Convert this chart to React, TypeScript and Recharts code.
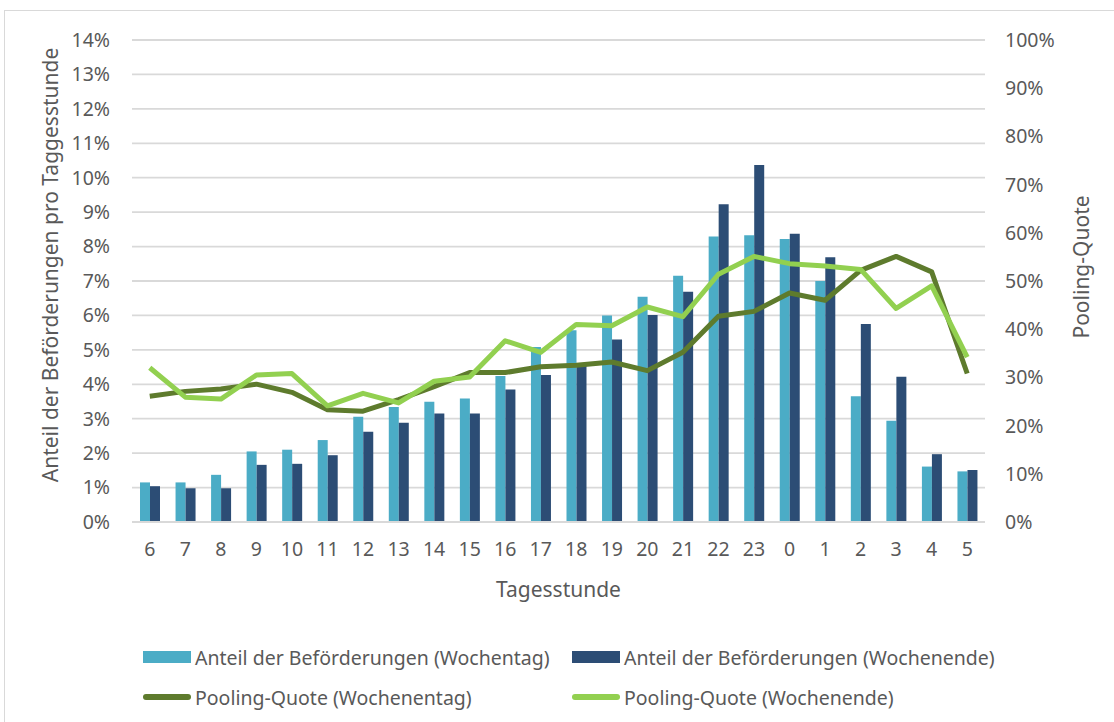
import { ComposedChart, Bar, Line, XAxis, YAxis, CartesianGrid, Legend } from 'recharts';

const hours = ['6', '7', '8', '9', '10', '11', '12', '13', '14', '15', '16', '17', '18', '19', '20', '21', '22', '23', '0', '1', '2', '3', '4', '5'];
// Anteil der Beförderungen in %
const shareWeekday = [1.15, 1.15, 1.37, 2.05, 2.1, 2.38, 3.06, 3.34, 3.49, 3.59, 4.24, 5.08, 5.57, 6.0, 6.54, 7.15, 8.29, 8.33, 8.22, 7.0, 3.65, 2.94, 1.61, 1.47];
const shareWeekend = [1.04, 0.98, 0.98, 1.66, 1.69, 1.94, 2.62, 2.88, 3.15, 3.15, 3.85, 4.27, 4.6, 5.3, 6.01, 6.69, 9.23, 10.37, 8.37, 7.69, 5.75, 4.22, 1.97, 1.51];
// Pooling-Quote in %
const poolWeekday = [26.1, 27.1, 27.6, 28.6, 26.9, 23.3, 23.0, 25.4, 28.1, 31.0, 31.0, 32.2, 32.5, 33.2, 31.4, 35.2, 42.7, 43.7, 47.5, 46.0, 52.2, 55.1, 51.9, 30.8];
const poolWeekend = [32.0, 25.9, 25.5, 30.5, 30.8, 24.1, 26.7, 24.7, 29.2, 30.1, 37.6, 35.2, 41.0, 40.7, 44.6, 42.6, 51.4, 55.1, 53.6, 53.1, 52.4, 44.3, 49.0, 34.2];

const leftTicks = [0, 1, 2, 3, 4, 5, 6, 7, 8, 9, 10, 11, 12, 13, 14];
const rightTicks = [0, 10, 20, 30, 40, 50, 60, 70, 80, 90, 100];

const data = hours.map((h, i) => ({
  hour: h,
  wt: shareWeekday[i],
  we: shareWeekend[i],
  pwt: poolWeekday[i],
  pwe: poolWeekend[i],
}));

const FONT = '"Noto Sans", sans-serif';
const TEXT = '#595959';
const C_WT = '#4BACC6';
const C_WE = '#2C4D75';
const C_PWT = '#5E7B2D';
const C_PWE = '#92D050';

const legendItems = [
  { label: 'Anteil der Beförderungen (Wochentag)', color: C_WT, kind: 'bar', col: 0, row: 0 },
  { label: 'Anteil der Beförderungen (Wochenende)', color: C_WE, kind: 'bar', col: 1, row: 0 },
  { label: 'Pooling-Quote (Wochenentag)', color: C_PWT, kind: 'line', col: 0, row: 1 },
  { label: 'Pooling-Quote (Wochenende)', color: C_PWE, kind: 'line', col: 1, row: 1 },
];

function ChartLegend() {
  return (
    <div style={{ position: 'relative', width: 1114, height: 80, fontFamily: FONT, fontSize: 19.5, color: TEXT }}>
      {legendItems.map((it) => (
        <div
          key={it.label}
          style={{
            position: 'absolute',
            left: it.col === 0 ? 143 : 572,
            top: it.row === 0 ? 8 : 48,
            display: 'flex',
            alignItems: 'center',
            height: 26,
            whiteSpace: 'nowrap',
          }}
        >
          <span
            style={{
              display: 'inline-block',
              width: 48,
              height: it.kind === 'bar' ? 12 : 6,
              borderRadius: it.kind === 'bar' ? 0 : 3,
              background: it.color,
              marginRight: 4,
            }}
          />
          <span>{it.label}</span>
        </div>
      ))}
    </div>
  );
}

const leftTitle = (props: any) => {
  const vb = props.viewBox;
  const x = vb.x + 50;
  const y = vb.y + vb.height / 2 - 16;
  return (
    <text x={x} y={y} transform={`rotate(-90 ${x} ${y})`} textAnchor="middle" dominantBaseline="central" fill={TEXT} fontSize={21} fontFamily={FONT}>
      Anteil der Beförderungen pro Taggesstunde
    </text>
  );
};

const rightTitle = (props: any) => {
  const vb = props.viewBox;
  const x = vb.x + 96;
  const y = vb.y + vb.height / 2 - 14;
  return (
    <text x={x} y={y} transform={`rotate(-90 ${x} ${y})`} textAnchor="middle" dominantBaseline="central" fill={TEXT} fontSize={21} fontFamily={FONT}>
      Pooling-Quote
    </text>
  );
};

const bottomTitle = (props: any) => {
  const vb = props.viewBox;
  return (
    <text x={vb.x + vb.width / 2} y={vb.y + 67} textAnchor="middle" dominantBaseline="central" fill={TEXT} fontSize={21} fontFamily={FONT}>
      Tagesstunde
    </text>
  );
};

export default function App() {
  const tick = { fontSize: 19.5, fill: TEXT, fontFamily: FONT };
  return (
    <div style={{ position: 'absolute', left: 0, top: 0, width: 1114, height: 722, overflow: 'hidden', background: '#fff' }}>
      <div style={{ position: 'absolute', left: 4, top: 10, width: 1130, height: 740, border: '1.5px solid #d9d9d9' }} />
      <ComposedChart
        width={1114}
        height={722}
        data={data}
        margin={{ top: 40, right: 0, bottom: 40, left: 0 }}
        barGap={0}
        style={{ position: 'absolute', left: 0, top: 0 }}
      >
        <CartesianGrid yAxisId="left" vertical={false} stroke="#d9d9d9" strokeWidth={1.8} />
        <XAxis
          dataKey="hour"
          height={80}
          tick={tick}
          tickLine={false}
          axisLine={{ stroke: '#d9d9d9', strokeWidth: 1.8 }}
          tickMargin={14}
          interval={0}
          label={bottomTitle}
        />
        <YAxis
          yAxisId="left"
          width={132}
          domain={[0, 14]}
          ticks={leftTicks}
          tickFormatter={(v: number) => `${v}%`}
          tick={tick}
          tickLine={false}
          axisLine={false}
          tickMargin={16}
          label={leftTitle}
        />
        <YAxis
          yAxisId="right"
          orientation="right"
          width={129}
          domain={[0, 100]}
          ticks={rightTicks}
          tickFormatter={(v: number) => `${v}%`}
          tick={{ ...tick, textAnchor: 'start' }}
          tickLine={false}
          axisLine={false}
          tickMargin={14}
          label={rightTitle}
        />
        <Legend
          verticalAlign="bottom"
          content={() => <ChartLegend />}
          wrapperStyle={{ top: 636, left: 0, bottom: 'auto', width: 1114, height: 80 }}
        />
        <Bar yAxisId="left" dataKey="wt" name="Anteil der Beförderungen (Wochentag)" fill={C_WT} barSize={10} isAnimationActive={false} />
        <Bar yAxisId="left" dataKey="we" name="Anteil der Beförderungen (Wochenende)" fill={C_WE} barSize={10} isAnimationActive={false} />
        <Line yAxisId="right" type="linear" dataKey="pwt" name="Pooling-Quote (Wochenentag)" stroke={C_PWT} strokeWidth={5} dot={false} strokeLinejoin="round" isAnimationActive={false} />
        <Line yAxisId="right" type="linear" dataKey="pwe" name="Pooling-Quote (Wochenende)" stroke={C_PWE} strokeWidth={5} dot={false} strokeLinejoin="round" isAnimationActive={false} />
      </ComposedChart>
    </div>
  );
}
